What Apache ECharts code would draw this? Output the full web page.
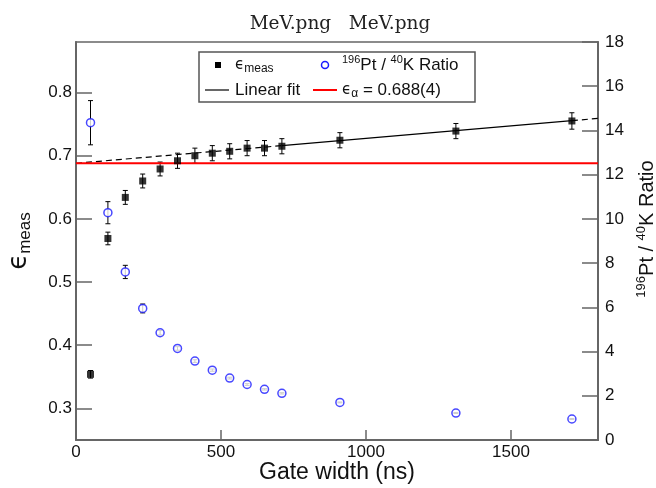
<!DOCTYPE html>
<html>
<head>
<meta charset="utf-8">
<script src="https://cdn.jsdelivr.net/npm/echarts@6/dist/echarts.min.js"></script>
<style>
  html, body { margin: 0; padding: 0; background: #fff; }
  #chart { width: 656px; height: 488px; }
</style>
</head>
<body>
<div id="chart"></div>
<script>
// Gate widths (ns) of the measurement points
const gateWidth = [50, 110, 170, 230, 290, 350, 410, 470, 530, 590, 650, 710, 910, 1310, 1710];

// Measured efficiency and its uncertainty (left axis)
const effMeas = [0.354, 0.569, 0.634, 0.660, 0.679, 0.692, 0.700, 0.704, 0.707, 0.712, 0.712, 0.715, 0.7245, 0.739, 0.755];
const effErr  = [0.006, 0.010, 0.011, 0.011, 0.011, 0.012, 0.012, 0.012, 0.012, 0.012, 0.012, 0.012, 0.012, 0.012, 0.013];

// 196Pt / 40K ratio and its uncertainty (right axis)
const ratio    = [14.35, 10.28, 7.60, 5.95, 4.85, 4.14, 3.57, 3.16, 2.80, 2.51, 2.29, 2.11, 1.70, 1.22, 0.95];
const ratioErr = [1.0, 0.5, 0.3, 0.2, 0.1, 0.08, 0.06, 0.05, 0.04, 0.04, 0.03, 0.03, 0.02, 0.02, 0.02];

// Linear fit: solid over the fitted range, dashed where extrapolated
const fitX = [0, 710, 1710, 1800];
const fitY = [0.688, 0.716, 0.7555, 0.7591];

// Asymptotic efficiency epsilon_alpha
const alphaX = [0, 1800];
const alphaY = 0.688;

// Tick labels
const xTicks = [0, 500, 1000, 1500];
const yLeftTicks = [0.3, 0.4, 0.5, 0.6, 0.7, 0.8];

const AXIS_COLOR = '#666';
const TEXT_COLOR = '#111';
const SANS = '"Liberation Sans", Arial, sans-serif';

function errorBars(params, api) {
  const x = api.value(0);
  const lo = api.coord([x, api.value(1)]);
  const hi = api.coord([x, api.value(2)]);
  const w = 2.5;
  const st = { stroke: '#000', lineWidth: 1 };
  return {
    type: 'group',
    children: [
      { type: 'line', shape: { x1: lo[0], y1: lo[1], x2: hi[0], y2: hi[1] }, style: st },
      { type: 'line', shape: { x1: lo[0] - w, y1: lo[1], x2: lo[0] + w, y2: lo[1] }, style: st },
      { type: 'line', shape: { x1: hi[0] - w, y1: hi[1], x2: hi[0] + w, y2: hi[1] }, style: st }
    ]
  };
}

const effPoints = gateWidth.map((g, i) => [g, effMeas[i]]);
const effBars = gateWidth.map((g, i) => [g, effMeas[i] - effErr[i], effMeas[i] + effErr[i]]);
const ratioPoints = gateWidth.map((g, i) => [g, ratio[i]]);
const ratioBars = gateWidth.map((g, i) => [g, ratio[i] - ratioErr[i], ratio[i] + ratioErr[i]]);

const fitPts = fitX.map((x, i) => [x, fitY[i]]);

const legendFont = { fontFamily: SANS, fontSize: 17, fill: TEXT_COLOR };
const lx = 199, ly = 52, lw = 276, lh = 50;
const row1 = ly + 13, row2 = ly + 38;

const chart = echarts.init(document.getElementById('chart'), null, { renderer: 'canvas' });

chart.setOption({
  animation: false,
  backgroundColor: '#fff',
  title: {
    text: 'MeV.png   MeV.png',
    left: 335,
    textAlign: 'center',
    top: 10,
    textStyle: { fontFamily: '"DejaVu Serif", serif', fontSize: 18.5, fontWeight: 'normal', color: '#222' }
  },
  grid: {
    left: 76, right: 58, top: 42, bottom: 48,
    outerBoundsMode: 'none',
    containLabel: false,
    show: true, borderColor: AXIS_COLOR, borderWidth: 1.5, backgroundColor: 'transparent'
  },
  xAxis: {
    type: 'value', min: 0, max: 1800,
    name: 'Gate width (ns)', nameLocation: 'middle', nameGap: 21, nameMoveOverlap: false,
    nameTextStyle: { fontFamily: SANS, fontSize: 23, color: TEXT_COLOR, verticalAlign: 'top' },
    axisLine: { lineStyle: { color: AXIS_COLOR, width: 2 } },
    axisTick: { inside: true, length: 10, customValues: xTicks, lineStyle: { color: AXIS_COLOR, width: 1.5 } },
    axisLabel: {
      customValues: xTicks, formatter: v => String(v),
      fontFamily: SANS, fontSize: 17, color: TEXT_COLOR, margin: 4
    },
    splitLine: { show: false }
  },
  yAxis: [
    {
      type: 'value', min: 0.25, max: 0.88, position: 'left',
      name: '{e|ϵ}{s|meas}', nameLocation: 'middle', nameRotate: 90, nameGap: 42,
      nameTextStyle: {
        rich: {
          e: { fontFamily: '"DejaVu Sans", sans-serif', fontSize: 26, color: TEXT_COLOR, lineHeight: 30 },
          s: { fontFamily: SANS, fontSize: 17, color: TEXT_COLOR, verticalAlign: 'bottom', lineHeight: 18 }
        }
      },
      axisLine: { show: true, lineStyle: { color: AXIS_COLOR, width: 2 } },
      axisTick: { show: true, inside: true, length: 16, customValues: yLeftTicks, lineStyle: { color: AXIS_COLOR, width: 1.5 } },
      axisLabel: { customValues: yLeftTicks, formatter: v => String(v), fontFamily: SANS, fontSize: 17, color: TEXT_COLOR, margin: 4 },
      splitLine: { show: false }
    },
    {
      type: 'value', min: 0, max: 18, interval: 2, position: 'right',
      name: '{p|196}{t|Pt / }{p|40}{t|K Ratio}', nameLocation: 'middle', nameRotate: 90, nameGap: 36,
      nameTextStyle: {
        padding: [0, 0, 0, 24],
        rich: {
          t: { fontFamily: SANS, fontSize: 20, color: TEXT_COLOR, lineHeight: 26 },
          p: { fontFamily: SANS, fontSize: 13, color: TEXT_COLOR, verticalAlign: 'top', lineHeight: 13 }
        }
      },
      axisLine: { show: true, lineStyle: { color: AXIS_COLOR, width: 2 } },
      axisTick: { show: true, inside: true, length: 16, lineStyle: { color: AXIS_COLOR, width: 1.5 } },
      axisLabel: { fontFamily: SANS, fontSize: 17, color: TEXT_COLOR, margin: 7 },
      splitLine: { show: false }
    }
  ],
  series: [
    {
      name: 'fit-extrapolated-low', type: 'line', yAxisIndex: 0,
      data: [fitPts[0], fitPts[1]], symbol: 'none', z: 2,
      lineStyle: { color: '#000', width: 1.2, type: [6, 4] }
    },
    {
      name: 'Linear fit', type: 'line', yAxisIndex: 0,
      data: [fitPts[1], fitPts[2]], symbol: 'none', z: 2,
      lineStyle: { color: '#000', width: 1.2, type: 'solid' }
    },
    {
      name: 'fit-extrapolated-high', type: 'line', yAxisIndex: 0,
      data: [fitPts[2], fitPts[3]], symbol: 'none', z: 2,
      lineStyle: { color: '#000', width: 1.2, type: [6, 4] }
    },
    {
      name: 'eps-alpha', type: 'line', yAxisIndex: 0,
      data: alphaX.map(x => [x, alphaY]), symbol: 'none', z: 4,
      lineStyle: { color: '#ff0000', width: 2 }
    },
    {
      name: 'eff-err', type: 'custom', yAxisIndex: 0, renderItem: errorBars,
      data: effBars, encode: { x: 0, y: [1, 2] }, z: 3
    },
    {
      name: 'ratio-err', type: 'custom', yAxisIndex: 1, renderItem: errorBars,
      data: ratioBars, encode: { x: 0, y: [1, 2] }, z: 3
    },
    {
      name: 'eps-meas', type: 'scatter', yAxisIndex: 0,
      data: effPoints, symbol: 'rect', symbolSize: 7, z: 5,
      itemStyle: { color: '#000' }
    },
    {
      name: 'ratio', type: 'scatter', yAxisIndex: 1,
      data: ratioPoints, symbol: 'circle', symbolSize: 8, z: 5,
      itemStyle: { color: '#fff', borderColor: '#1a1aff', borderWidth: 1.5 }
    }
  ],
  graphic: [
    {
      type: 'rect', z: 100,
      shape: { x: lx, y: ly, width: lw, height: lh },
      style: { fill: '#fff', stroke: '#555', lineWidth: 1.5 }
    },
    {
      type: 'rect', z: 101,
      shape: { x: 215, y: row1 - 3, width: 6, height: 6 },
      style: { fill: '#000' }
    },
    {
      type: 'text', z: 101, x: 235, y: row1,
      style: {
        text: '{e|ϵ}{s|meas}', verticalAlign: 'middle',
        rich: {
          e: { fontFamily: '"DejaVu Sans", sans-serif', fontSize: 15, fill: TEXT_COLOR, lineHeight: 20 },
          s: { fontFamily: SANS, fontSize: 12, fill: TEXT_COLOR, verticalAlign: 'bottom', lineHeight: 14 }
        }
      }
    },
    {
      type: 'circle', z: 101,
      shape: { cx: 325, cy: row1, r: 3.5 },
      style: { fill: '#fff', stroke: '#1a1aff', lineWidth: 1.5 }
    },
    {
      type: 'text', z: 101, x: 342, y: row1,
      style: {
        text: '{p|196}{t|Pt / }{p|40}{t|K Ratio}', verticalAlign: 'middle',
        rich: {
          t: { fontFamily: SANS, fontSize: 17, fill: TEXT_COLOR, lineHeight: 22 },
          p: { fontFamily: SANS, fontSize: 11, fill: TEXT_COLOR, verticalAlign: 'top', lineHeight: 11 }
        }
      }
    },
    {
      type: 'line', z: 101,
      shape: { x1: 205, y1: row2, x2: 229, y2: row2 },
      style: { stroke: '#000', lineWidth: 1.2 }
    },
    {
      type: 'text', z: 101, x: 235, y: row2,
      style: Object.assign({ text: 'Linear fit', verticalAlign: 'middle' }, legendFont)
    },
    {
      type: 'line', z: 101,
      shape: { x1: 313, y1: row2, x2: 337, y2: row2 },
      style: { stroke: '#ff0000', lineWidth: 2 }
    },
    {
      type: 'text', z: 101, x: 342, y: row2,
      style: {
        text: '{e|ϵ}{s|α}{t| = 0.688(4)}', verticalAlign: 'middle',
        rich: {
          e: { fontFamily: '"DejaVu Sans", sans-serif', fontSize: 15, fill: TEXT_COLOR, lineHeight: 20 },
          s: { fontFamily: SANS, fontSize: 12, fill: TEXT_COLOR, verticalAlign: 'bottom', lineHeight: 14 },
          t: { fontFamily: SANS, fontSize: 17, fill: TEXT_COLOR, lineHeight: 20 }
        }
      }
    }
  ]
});
</script>
</body>
</html>
